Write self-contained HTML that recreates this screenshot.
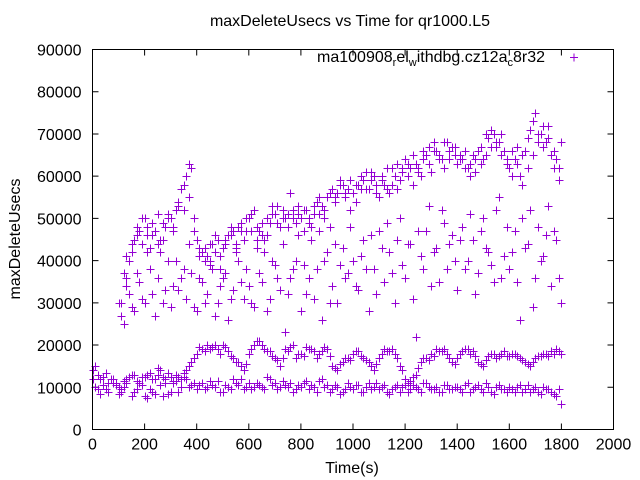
<!DOCTYPE html>
<html><head><meta charset="utf-8"><style>
html,body{margin:0;padding:0;background:#fff}
svg{display:block;font-family:"Liberation Sans",sans-serif}
</style></head><body>
<svg id="chart" width="640" height="480" viewBox="0 0 640 480" xmlns="http://www.w3.org/2000/svg">
<rect width="640" height="480" fill="#fff"/>
<text x="350" y="26" font-size="16" text-anchor="middle">maxDeleteUsecs vs Time for qr1000.L5</text>
<text transform="translate(20,239) rotate(-90)" font-size="16" text-anchor="middle">maxDeleteUsecs</text>
<text x="352" y="473" font-size="16" text-anchor="middle">Time(s)</text>
<g id="axes"></g>
<g id="points"></g>
<rect x="92.5" y="49.5" width="521" height="380" fill="none" stroke="#000" stroke-width="1"/>
<g>
<text x="545" y="62" font-size="16" text-anchor="end">ma100908<tspan font-size="11" dy="4">r</tspan><tspan dy="-4">el</tspan><tspan font-size="11" dy="4">w</tspan><tspan dy="-4">ithdbg.cz12a</tspan><tspan font-size="11" dy="4">c</tspan><tspan dy="-4">8r32</tspan></text>
<path d="M570,57.5h8M574,53.5v8" stroke="#9400d3" stroke-width="1"/>
</g>
</svg>
<script>
const xTicks=[0,200,400,600,800,1000,1200,1400,1600,1800,2000];
const yTicks=[0,10000,20000,30000,40000,50000,60000,70000,80000,90000];
const times=[0,20,40,60,80,100,120,140,160,180,200,220,240,260,280,300,320,340,360,380,400,420,440,460,480,500,520,540,560,580,600,620,640,660,680,700,720,740,760,780,800,820,840,860,880,900,920,940,960,980,1000,1020,1040,1060,1080,1100,1120,1140,1160,1180,1200,1220,1240,1260,1280,1300,1320,1340,1360,1380,1400,1420,1440,1460,1480,1500,1520,1540,1560,1580,1600,1620,1640,1660,1680,1700,1720,1740,1760,1780,1800];
const timesB=[10,30,50,70,90,110,130,150,170,190,210,230,250,270,290,310,330,350,370,390,410,430,450,470,490,510,530,550,570,590,610,630,650,670,690,710,730,750,770,790,810,830,850,870,890,910,930,950,970,990,1010,1030,1050,1070,1090,1110,1130,1150,1170,1190,1210,1230,1250,1270,1290,1310,1330,1350,1370,1390,1410,1430,1450,1470,1490,1510,1530,1550,1570,1590,1610,1630,1650,1670,1690,1710,1730,1750,1770,1790];
const lowBand=[12000,9500,10500,9000,11000,8500,10000,12500,9000,11000,
8000,9500,8500,10500,12000,9000,11500,10000,12000,10500,
9500,11000,10000,10500,11500,9000,10000,12000,10500,9500,
11000,10000,10500,9500,12000,11000,10000,10500,11000,9500,
10000,11500,10500,9000,12000,10500,9500,10000,9000,11000,
9500,10500,9000,11000,10000,9500,10500,8500,10000,9000,
10500,9500,10000,9000,11000,9500,10000,9000,10500,9500,
10000,9000,11000,9500,10500,9000,10000,8500,10500,9500,
10000,9000,10500,9500,9000,10000,8500,9500,9000,8000,6000];
const midBand=[14000,13000,12500,11000,12000,10000,11500,12500,13000,11000,
12500,13500,12000,14000,11000,12500,13000,12000,14000,16000,
18000,19000,20000,19500,19000,20000,18500,17000,16000,14000,
18000,20000,21000,19000,18500,17000,15000,19000,19500,17000,
18000,19500,19000,17000,18500,19000,15000,14000,16000,17000,
18000,18500,17000,16000,14000,17000,19000,18500,18000,15000,
12000,11500,13000,16000,17000,18000,19000,18500,18000,16000,
17000,18500,19000,18500,16000,15000,17500,18000,17500,18500,
17500,18000,17000,16000,15000,17000,17500,18000,18500,19000,18000];
const upperBand=[null,null,null,null,null,null,37000,40000,45000,47000,
50000,43000,47000,42000,48000,50000,52000,57000,60000,62000,
45000,42000,41000,44000,45000,43000,46000,47000,48000,45000,
50000,52000,47000,45000,49000,51000,48000,50000,56000,49000,
50000,52000,48000,54000,53000,55000,57000,56000,58000,57000,
56000,58000,59000,57000,60000,55000,58000,56000,60000,59000,
64000,62000,63000,60000,65000,61000,66000,64000,68000,67000,
63000,64000,62000,65000,66000,64000,69000,70000,68000,66000,
62000,64000,60000,66000,71000,75000,70000,68000,65000,64000,68000];
const scatterBand=[null,null,null,null,null,30000,25000,32000,28000,35000,
30000,38000,27000,45000,33000,29000,40000,36000,31000,37000,
28000,35000,32000,38000,30000,36000,26000,33000,40000,31000,
34000,29000,37000,42000,31000,39000,33000,23000,36000,40000,
28000,32000,45000,38000,26000,42000,34000,30000,43000,37000,
40000,33000,45000,28000,38000,47000,35000,42000,30000,50000,
36000,44000,22000,41000,47000,34000,43000,52000,38000,46000,
33000,48000,40000,45000,37000,50000,42000,35000,55000,41000,
38000,47000,26000,43000,52000,36000,40000,46000,34000,45000,30000];
const upperBandB=[null,null,null,null,null,30000,36000,42000,46000,44000,
48000,46000,44000,49000,51000,47000,53000,58000,55000,47000,
41000,43000,39000,42000,38000,44000,46000,44000,47000,50000,
47000,45000,49000,46000,51000,53000,50000,48000,52000,51000,
47000,49000,53000,51000,50000,48000,54000,59000,55000,52000,
54000,60000,57000,61000,56000,59000,62000,58000,57000,61000,
60000,58000,62000,66000,63000,68000,65000,62000,64000,67000,
65000,62000,60000,64000,63000,65000,67000,68000,70000,64000,
60000,67000,58000,62000,65000,68000,72000,69000,62000,59000];
const upperBandC=[null,null,null,null,null,null,41000,44000,48000,50000,
46000,49000,51000,45000,50000,48000,54000,52000,63000,50000,
43000,40000,44000,46000,41000,45000,48000,43000,49000,47000,
51000,48000,46000,50000,53000,49000,52000,51000,50000,53000,
52000,50000,51000,55000,52000,56000,55000,58000,56000,59000,
58000,57000,61000,59000,58000,60000,57000,62000,63000,62000,
63000,65000,61000,64000,67000,66000,64000,68000,66000,65000,
64000,66000,63000,61000,67000,70000,71000,67000,65000,63000,
66000,63000,65000,69000,73000,70000,67000,72000,66000,62000];
const scatterBandB=[null,null,null,null,null,27000,34000,29000,37000,31000,
42000,32000,36000,30000,40000,34000,33000,38000,44000,29000,
36000,30000,40000,27000,34000,37000,31000,42000,35000,38000,
30000,43000,35000,28000,40000,36000,44000,32000,38000,46000,
39000,36000,31000,47000,40000,30000,44000,39000,36000,48000,
34000,41000,38000,46000,32000,43000,49000,37000,45000,39000,
44000,31000,47000,38000,53000,42000,35000,49000,44000,40000,
45000,38000,51000,32000,47000,43000,39000,52000,36000,48000,
42000,35000,50000,44000,29000,48000,41000,53000,47000,36000];
const lowBandB=[10000,8500,9500,12000,10500,9000,11000,8000,9500,10500,
7500,9000,13000,8000,8500,11000,9000,12500,10000,11000,
10500,9500,11500,10000,9000,10500,9500,11000,12000,10000,
9500,11000,10000,12500,10500,9500,11500,10000,9000,10500,
11000,9500,10000,11500,10000,9000,10500,8500,9500,10000,
10500,9000,10000,9500,11000,10000,9000,9500,10500,10000,
9000,10500,9500,11000,10000,9500,9000,10500,9500,10000,
9500,10500,9000,10000,9500,11000,9000,10000,9500,9000,
9500,10000,9000,10500,9500,9000,10000,9500,8500,9500];
const midBandB=[15000,12000,13500,12000,11000,9500,12000,13000,11500,12500,
13000,12000,14500,12500,13500,11500,12500,13500,15000,17000,
19500,18500,19000,20000,18000,19500,17500,16000,15000,15500,
19000,21000,20000,18500,17500,16500,17000,18500,20000,18000,
17500,19000,18500,18000,19500,17500,14500,15500,17000,16500,
18500,17500,16500,15000,15500,18000,18500,19000,17000,14000,
11000,12500,14500,17000,16500,17500,18500,19000,17000,15500,
18000,19000,18000,17500,15500,16500,18000,17000,18000,17500,
18000,17500,16500,15500,16000,17500,18000,17500,18000,18500];

const X0=92.5,X1=613.5,Y0=429.5,Y1=49.5;
function xs(t){return X0+(t-0)/(2000-0)*(X1-X0);}
function ys(v){return Y0-(v-0)/(90000-0)*(Y0-Y1);}
const NS="http://www.w3.org/2000/svg";
const axes=document.getElementById('axes');
let tickD="";
xTicks.forEach(t=>{
  const x=xs(t);
  tickD+=`M${x},${Y0}v-6M${x},${Y1}v6`;
  const tx=document.createElementNS(NS,'text');
  
  
  tx.setAttribute('x',x);tx.setAttribute('y',Y0+20);
  tx.setAttribute('font-size','16');tx.setAttribute('text-anchor','middle');
  tx.textContent=t;axes.appendChild(tx);
});
yTicks.forEach(v=>{
  const y=ys(v);
  tickD+=`M${X0},${y}h6M${X1},${y}h-6`;
  const tx=document.createElementNS(NS,'text');
  
  
  tx.setAttribute('x',X0-11);tx.setAttribute('y',y+6);
  tx.setAttribute('font-size','16');tx.setAttribute('text-anchor','end');
  tx.textContent=v;axes.appendChild(tx);
});
const tp=document.createElementNS(NS,'path');


tp.setAttribute('d',tickD);tp.setAttribute('stroke','#000');tp.setAttribute('fill','none');
axes.appendChild(tp);

const series=[[times,lowBand],[times,midBand],[times,upperBand],[times,scatterBand],[timesB,upperBandB],[timesB,upperBandC],[timesB,scatterBandB],[timesB,lowBandB],[timesB,midBandB]];
let d="";
series.forEach(([ts,vs])=>{
  vs.forEach((v,i)=>{
    if(v==null)return;
    const x=Math.round(xs(ts[i]))+0.5,y=Math.round(ys(v))+0.5;
    d+=`M${x-4},${y}h8M${x},${y-4}v8`;
  });
});
const pp=document.createElementNS(NS,'path');


pp.setAttribute('d',d);pp.setAttribute('stroke','#9400d3');pp.setAttribute('fill','none');pp.setAttribute('stroke-width','1');
document.getElementById('points').appendChild(pp);
</script>
</body></html>
